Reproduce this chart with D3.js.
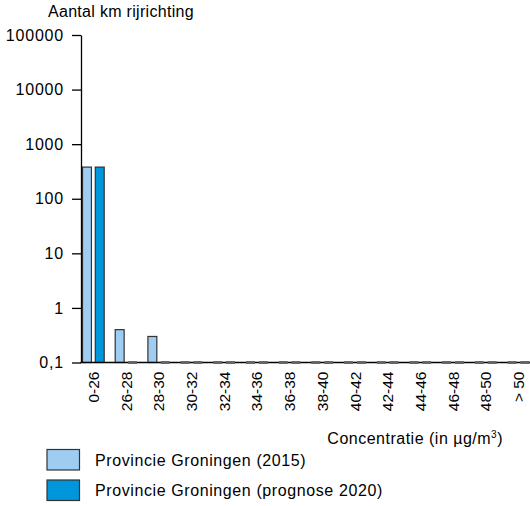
<!DOCTYPE html>
<html><head><meta charset="utf-8">
<script src="https://cdn.jsdelivr.net/npm/d3@7"></script>
<style>body{margin:0;background:#fff}svg{display:block;font-family:"Liberation Sans",Arial,sans-serif}</style>
</head><body><svg id="c" width="530" height="506"></svg>
<script>
const categories = ["0-26","26-28","28-30","30-32","32-34","34-36","36-38","38-40","40-42","42-44","44-46","46-48","48-50","> 50"];
const series = ["Provincie Groningen (2015)","Provincie Groningen (prognose 2020)"];
const values2015 = [380,0.4,0.3,0,0,0,0,0,0,0,0,0,0,0];
const values2020 = [380,0,0,0,0,0,0,0,0,0,0,0,0,0];
const yTicks = [0.1,1,10,100,1000,10000,100000];
const yTickLabels = ["0,1","1","10","100","1000","10000","100000"];
const colors = ["#9fcdf1","#0096dc"];

const svg = d3.select("#c");
const y = d3.scaleLog().domain([0.1,100000]).range([362.5,35]);
const x = d3.scaleBand().domain(categories).range([77,77+14*32.7]).padding(0);
const x1 = d3.scaleBand().domain([0,1]).range([5.5,27.2]).paddingInner(0.3).paddingOuter(0);

const data = [values2015, values2020];
const gBars = svg.append("g");

// y axis
const yAxis = d3.axisLeft(y).tickValues(yTicks).tickFormat((d,i)=>yTickLabels[i]).tickSize(9).tickSizeOuter(0).tickPadding(8);
const ya = svg.append("g").attr("transform","translate(81,0)").call(yAxis);
ya.selectAll("text").attr("font-size","16px").attr("letter-spacing","0.8px").attr("fill","#000").attr("font-family","Liberation Sans, Arial, sans-serif");
ya.selectAll("line,path").attr("stroke","#000").attr("stroke-width",1.3);

// x axis
const xAxis = d3.axisBottom(x).tickSize(0).tickPadding(0);
const xa = svg.append("g").attr("transform","translate(0,362.5)").call(xAxis);
xa.select(".domain").remove();
xa.selectAll("text")
  .attr("transform","rotate(-90)")
  .attr("text-anchor","end")
  .attr("x",-9).attr("y",0).attr("dy","0.36em")
  .attr("font-size","15.5px").attr("fill","#000")
  .attr("font-family","Liberation Sans, Arial, sans-serif");
svg.append("line").attr("x1",80.5).attr("x2",530).attr("y1",362.5).attr("y2",362.5).attr("stroke","#000").attr("stroke-width",1.3);

categories.forEach((c,i)=>{
  data.forEach((vals,s)=>{
    if (vals[i] > 0.1) {
      const v = vals[i];
      gBars.append("rect")
        .attr("x", x(c)+x1(s))
        .attr("y", y(v))
        .attr("width", x1.bandwidth())
        .attr("height", y(0.1)-y(v))
        .attr("fill", colors[s])
        .attr("stroke", "#333")
        .attr("stroke-width", 1.2);
    } else {
      svg.append("rect")
        .attr("x", x(c)+x1(s))
        .attr("y", y(0.1)-1.5)
        .attr("width", x1.bandwidth())
        .attr("height", 3)
        .attr("fill", "#666");
    }
  });
});

// title
svg.append("text").attr("x",48).attr("y",17).attr("font-size","16px").attr("letter-spacing","0.3px").text("Aantal km rijrichting");

// x title
const xt = svg.append("text").attr("x",503).attr("y",444).attr("text-anchor","end").attr("font-size","16px").attr("letter-spacing","0.5px");
xt.append("tspan").text("Concentratie (in µg/m");
xt.append("tspan").attr("font-size","10px").attr("dy","-6").text("3");
xt.append("tspan").attr("dy","6").text(")");

// legend
series.forEach((s,i)=>{
  const ly = 449.5 + i*30.5;
  svg.append("rect").attr("x",47).attr("y",ly).attr("width",32.5).attr("height",20.5)
    .attr("fill",colors[i]).attr("stroke","#333").attr("stroke-width",1.2);
  svg.append("text").attr("x",95).attr("y",ly+16).attr("font-size","16px").attr("letter-spacing","0.6px").text(s);
});
</script></body></html>
